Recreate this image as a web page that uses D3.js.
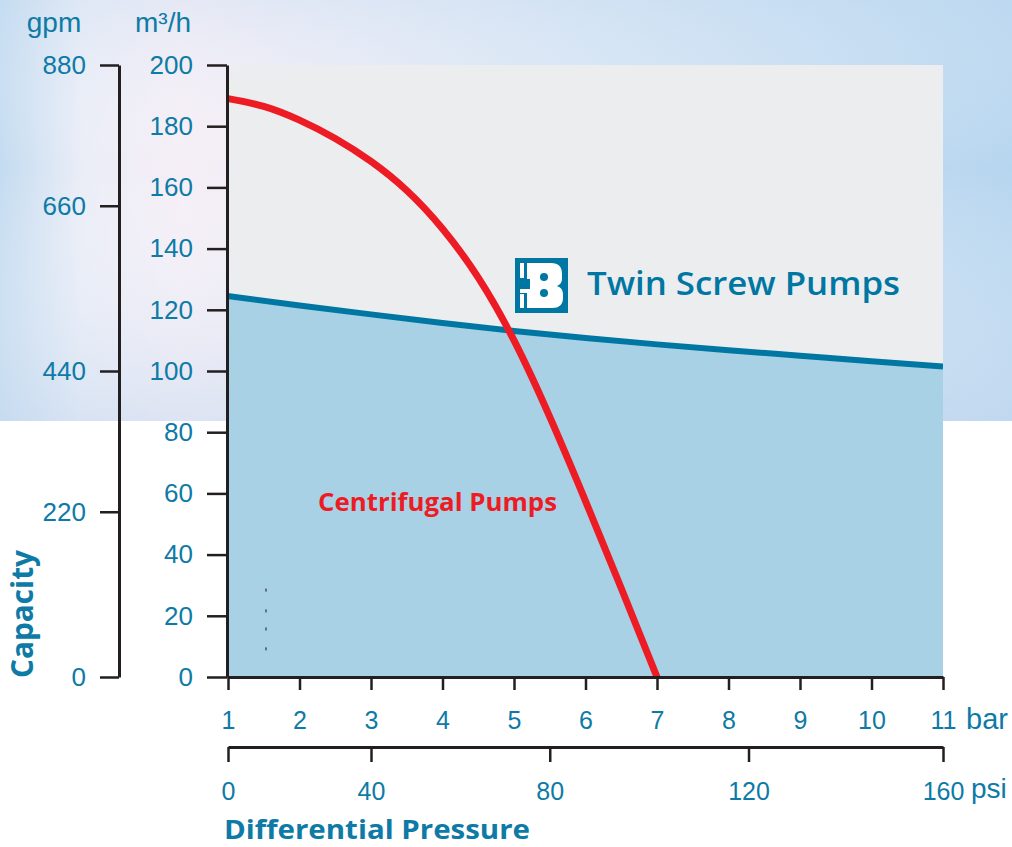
<!DOCTYPE html>
<html>
<head>
<meta charset="utf-8">
<script src="https://cdn.jsdelivr.net/npm/d3@7"></script>
<style>
  body { margin:0; background:#fff; }
  svg { display:block; }
</style>
</head>
<body>
<svg width="1012" height="847"></svg>
<script>

  const svgWidth=1012;
  const svgHeight=847;

  const margin={
    top:65,
    left:227,
    bottom:170,
    right:69
  }

  // data
  const barTicks=[1,2,3,4,5,6,7,8,9,10,11];
  const m3hTicks=[0,20,40,60,80,100,120,140,160,180,200];
  const gpmTicks=[0,220,440,660,880];
  const gpmAtM3h=[0,54,100,154,200];     // where the gpm ticks sit on the m3/h scale
  const psiTicks=[0,40,80,120,160];
  const psiAtBar=[1,3,5.5,8.28,11];      // where the psi ticks sit on the bar scale

  const twinBar=[1,2,3,4,5,6,7,8,9,10,11];
  const twinFlow=[124.5,121.4,118.5,115.7,113.1,110.8,108.7,106.8,105.0,103.2,101.5];

  const centBar=[1,1.5,2,2.5,3,3.5,4,4.5,5,5.5,6,6.5,7];
  const centFlow=[189,186.5,182,176,168.5,159,146.5,130.5,110,85,57.5,29,0];

  const specBar=[1.53,1.53,1.53,1.53];
  const specFlow=[28.4,21.6,15.7,9.2];

  const blue="#0077a3";
  const textBlue="#0e7aa6";
  const red="#ed1c24";
  const ink="#231f20";

  const xScale=d3.scaleLinear().domain([1,11]).range([margin.left+1,svgWidth-margin.right]);
  const yScale=d3.scaleLinear().domain([0,200]).range([svgHeight-margin.bottom,margin.top]);
  const gpmScale=d3.scaleLinear().domain(gpmTicks).range(gpmAtM3h.map(yScale));
  const psiScale=d3.scaleLinear().domain(psiTicks).range(psiAtBar.map(xScale));

  const svg=d3.select("svg");
  const defs=svg.append("defs");

  const gH=defs.append("linearGradient").attr("id","bgH");
  [["0%","#c3dbf0"],["8%","#eaedf7"],["18%","#f5eef6"],["35%","#e9ebf6"],["60%","#d5e4f4"],["85%","#c2dbf1"],["100%","#b6d5ef"]]
    .forEach(s=>gH.append("stop").attr("offset",s[0]).attr("stop-color",s[1]));
  const gV=defs.append("linearGradient").attr("id","bgV").attr("x1",0).attr("y1",0).attr("x2",0).attr("y2",1);
  gV.append("stop").attr("offset","0%").attr("stop-color","#c8def2").attr("stop-opacity",0.35);
  gV.append("stop").attr("offset","40%").attr("stop-color","#ffffff").attr("stop-opacity",0);
  gV.append("stop").attr("offset","100%").attr("stop-color","#c9dbf0").attr("stop-opacity",0.55);

  defs.append("clipPath").attr("id","plotClip")
    .append("rect")
    .attr("x",xScale(1)-1).attr("y",yScale(200))
    .attr("width",xScale(11)-xScale(1)+1).attr("height",yScale(0)-yScale(200));

  // background band
  svg.append("rect").attr("x",0).attr("y",0).attr("width",svgWidth).attr("height",421).style("fill","url(#bgH)");
  svg.append("rect").attr("x",0).attr("y",0).attr("width",svgWidth).attr("height",421).style("fill","url(#bgV)");

  // plot area
  svg.append("rect")
    .attr("x",xScale(1)-1).attr("y",yScale(200))
    .attr("width",xScale(11)-xScale(1)+1).attr("height",yScale(0)-yScale(200))
    .style("fill","#ecedef");

  const plot=svg.append("g").attr("clip-path","url(#plotClip)");

  const twinData=twinBar.map((b,i)=>({b:b,q:twinFlow[i]}));
  const centData=centBar.map((b,i)=>({b:b,q:centFlow[i]}));

  plot.append("path")
    .datum(twinData)
    .attr("d",d3.area().x(d=>xScale(d.b)).y0(yScale(0)).y1(d=>yScale(d.q)).curve(d3.curveNatural))
    .style("fill","#a8d1e5");

  plot.append("path")
    .datum(twinData)
    .attr("d",d3.line().x(d=>xScale(d.b)).y(d=>yScale(d.q)).curve(d3.curveNatural))
    .style("fill","none").style("stroke",blue).style("stroke-width",6);

  plot.append("path")
    .datum(centData)
    .attr("d",d3.line().x(d=>xScale(d.b)).y(d=>yScale(d.q)).curve(d3.curveNatural))
    .style("fill","none").style("stroke",red).style("stroke-width",7);

  plot.selectAll(".speck")
    .data(specBar.map((b,i)=>({b:b,q:specFlow[i]})))
    .enter()
    .append("rect")
    .attr("class","speck")
    .attr("x",d=>xScale(d.b)-0.5).attr("y",d=>yScale(d.q)-1.5)
    .attr("width",1.2).attr("height",3)
    .style("fill","#333");

  // axes
  function styleAxis(g,size,width){
    g.select(".domain").style("stroke",ink).style("stroke-width",width);
    g.selectAll(".tick line").style("stroke",ink).style("stroke-width",2.5);
    g.selectAll(".tick text")
      .style("fill",textBlue)
      .style("font-family","'Liberation Sans', Arial, sans-serif")
      .style("font-size",size+"px");
  }

  svg.append("g")
    .attr("class","yAxis")
    .attr("transform",`translate(${margin.left},0)`)
    .call(d3.axisLeft(yScale).tickValues(m3hTicks).tickSize(20).tickSizeOuter(0).tickPadding(14).tickFormat(d=>d))
    .call(g=>styleAxis(g,26,3));

  svg.append("g")
    .attr("class","gpmAxis")
    .attr("transform","translate(119,0)")
    .call(d3.axisLeft(gpmScale).tickValues(gpmTicks).tickSize(19).tickSizeOuter(0).tickPadding(14).tickFormat(d=>d))
    .call(g=>styleAxis(g,26,3));

  svg.append("g")
    .attr("class","xAxis")
    .attr("transform",`translate(0,${yScale(0)})`)
    .call(d3.axisBottom(xScale).tickValues(barTicks).tickSize(13).tickSizeOuter(0).tickPadding(21).tickFormat(d=>d))
    .call(g=>styleAxis(g,25,3));

  svg.append("g")
    .attr("class","psiAxis")
    .attr("transform","translate(0,747)")
    .call(d3.axisBottom(psiScale).tickValues(psiTicks).tickSize(15).tickSizeOuter(0).tickPadding(20).tickFormat(d=>d))
    .call(g=>styleAxis(g,25,3));

  const unitText=(x,y,t,size,anchor)=>svg.append("text")
    .attr("x",x).attr("y",y).text(t)
    .attr("text-anchor",anchor||"start")
    .style("fill",textBlue)
    .style("font-family","'Liberation Sans', Arial, sans-serif")
    .style("font-size",size+"px");

  unitText(966,729,"bar",29);
  unitText(971,798,"psi",28);
  unitText(54,32,"gpm",28,"middle");
  unitText(163,32,"m³/h",28,"middle");

  // titles
  svg.append("text")
    .attr("x",224).attr("y",839)
    .text("Differential Pressure")
    .attr("textLength",306).attr("lengthAdjust","spacingAndGlyphs")
    .style("fill",textBlue)
    .style("font-family","'Open Sans', sans-serif")
    .style("font-weight","bold")
    .style("font-size","27px");

  svg.append("text")
    .attr("transform","translate(33,678) rotate(-90)")
    .text("Capacity")
    .attr("textLength",128).attr("lengthAdjust","spacingAndGlyphs")
    .style("fill",textBlue)
    .style("font-family","'Open Sans', sans-serif")
    .style("font-weight","bold")
    .style("font-size","31px");

  svg.append("text")
    .attr("x",318).attr("y",511)
    .text("Centrifugal Pumps")
    .attr("textLength",239).attr("lengthAdjust","spacingAndGlyphs")
    .style("fill",red)
    .style("font-family","'Open Sans', sans-serif")
    .style("font-weight","bold")
    .style("font-size","25px");

  svg.append("text")
    .attr("x",587).attr("y",295)
    .text("Twin Screw Pumps")
    .attr("textLength",313).attr("lengthAdjust","spacingAndGlyphs")
    .style("fill",blue)
    .style("font-family","'Open Sans', sans-serif")
    .style("font-weight","600")
    .style("font-size","33px");

  // logo
  const logo=svg.append("g").attr("class","logo");
  logo.append("rect").attr("x",515).attr("y",258).attr("width",53).attr("height",55).style("fill",blue);
  logo.append("path")
    .attr("d","M527,263 H551 Q562,263 562,274 V279 Q562,284 557,286 Q563,288 563,294 V298 Q563,308 552,308 H527 Z")
    .style("fill","#fff");
  logo.append("rect").attr("x",520).attr("y",263).attr("width",4).attr("height",15).style("fill","#fff");
  logo.append("rect").attr("x",520).attr("y",294).attr("width",4).attr("height",14).style("fill","#fff");
  logo.append("rect").attr("x",520).attr("y",289).attr("width",10).attr("height",4).style("fill","#fff");
  logo.append("rect").attr("x",524).attr("y",279).attr("width",6).attr("height",10).style("fill",blue);
  logo.append("circle").attr("cx",544).attr("cy",277).attr("r",4).style("fill",blue);
  logo.append("circle").attr("cx",544).attr("cy",293).attr("r",4).style("fill",blue);

</script>
</body>
</html>
